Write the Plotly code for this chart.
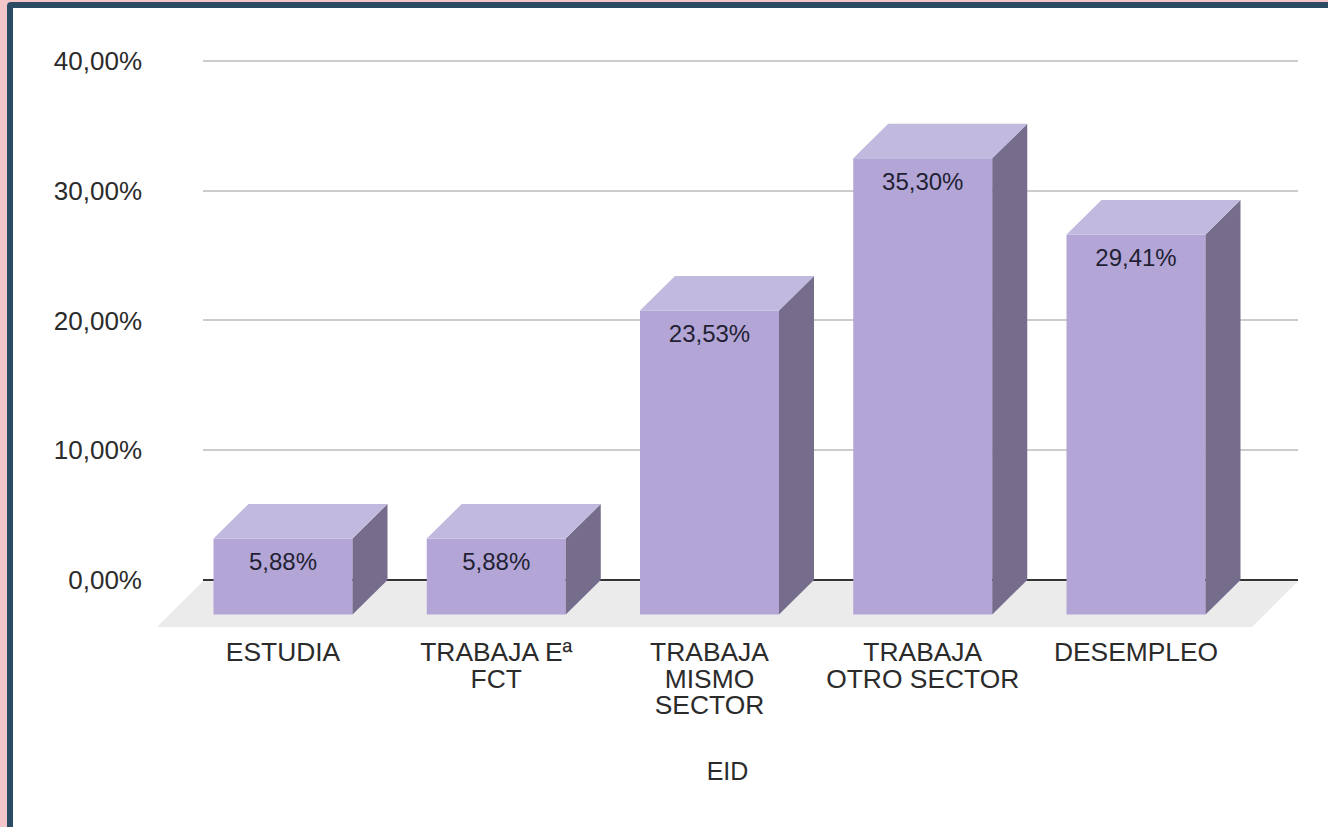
import plotly.graph_objects as go

# Data
categories = ["ESTUDIA", "TRABAJA Eª<br>FCT", "TRABAJA<br>MISMO<br>SECTOR", "TRABAJA<br>OTRO SECTOR", "DESEMPLEO"]
values = [5.88, 5.88, 23.53, 35.30, 29.41]
value_labels = ["5,88%", "5,88%", "23,53%", "35,30%", "29,41%"]
y_ticks = [0, 10, 20, 30, 40]
y_tick_labels = ["0,00%", "10,00%", "20,00%", "30,00%", "40,00%"]
x_title = "EID"

# Page geometry
W, H = 1328, 827
PX_PER_UNIT_Y = 12.975
PX_PER_CAT = 213.25
X0_PX = 283          # pixel of first category centre (front face)
BACK_L, BACK_R = 203, 1298
FRONT_L = 157
Y40, Y0, FLOOR_Y = 61, 580, 627

depth_x = 35 / PX_PER_CAT
depth_y = 34.5 / PX_PER_UNIT_Y
bar_w = 139 / PX_PER_CAT
front_scale = 0.996
label_drop = 25.5 / PX_PER_UNIT_Y
wall_pad = 0.3   # extra value range so that the edge grid lines are kept

FRONT, TOP, SIDE = "#b3a6d6", "#c2b9de", "#766c8c"
FLOOR = "#ebebeb"
TEXT = "#2b2b2b"
FONT = "Liberation Sans, Arial, sans-serif"


def px_x(p):
    return (p - X0_PX) / PX_PER_CAT


def rounded(x0, y0, r):
    """Panel path in paper coordinates, rounded at its top-left corner."""
    l, t = x0 / W, 1 - y0 / H
    return (f"M {l},-0.01 L {l},{t - r / H} Q {l},{t} {l + r / W},{t} "
            f"L 1.01,{t} L 1.01,-0.01 Z")


xs = list(range(len(values)))
tops = [v * front_scale - depth_y for v in values]

fig = go.Figure()

# Subplot 1: back wall with native grid and value axis
fig.add_trace(go.Scatter(x=[0, 1], y=[0, 40], mode="none", hoverinfo="skip",
                         showlegend=False, xaxis="x", yaxis="y"))

# Subplot 2: floor
floor_front = -(FLOOR_Y - Y0) / PX_PER_UNIT_Y
fl = px_x(FRONT_L)
fr = px_x(1252)
fig.add_trace(go.Scatter(
    x=[px_x(BACK_L), px_x(BACK_R), fr, fl, px_x(BACK_L)],
    y=[-0.1, -0.1, floor_front, floor_front, -0.1],
    mode="lines", fill="toself", fillcolor=FLOOR, line=dict(width=0),
    hoverinfo="skip", showlegend=False, xaxis="x2", yaxis="y2"))

# Subplot 3: the 3D bars
fig.add_trace(go.Bar(x=xs, y=[v * front_scale for v in values], base=-depth_y, width=bar_w,
                     marker=dict(color=FRONT, line=dict(width=0)),
                     showlegend=False, xaxis="x3", yaxis="y3"))

side_x, side_y, top_x, top_y = [], [], [], []
for x, t in zip(xs, tops):
    r = x + bar_w / 2
    l = x - bar_w / 2
    side_x += [r, r + depth_x, r + depth_x, r, r, None]
    side_y += [-depth_y, 0, t + depth_y, t, -depth_y, None]
    top_x += [l, r, r + depth_x, l + depth_x, l, None]
    top_y += [t, t, t + depth_y, t + depth_y, t, None]

fig.add_trace(go.Scatter(x=side_x, y=side_y, mode="lines", fill="toself", fillcolor=SIDE,
                         line=dict(width=0), hoverinfo="skip", showlegend=False,
                         xaxis="x3", yaxis="y3"))
fig.add_trace(go.Scatter(x=top_x, y=top_y, mode="lines", fill="toself", fillcolor=TOP,
                         line=dict(width=0), hoverinfo="skip", showlegend=False,
                         xaxis="x3", yaxis="y3"))
fig.add_trace(go.Scatter(x=xs, y=[t - label_drop for t in tops], mode="text", text=value_labels,
                         textposition="middle center",
                         textfont=dict(family=FONT, size=24, color="#221f33"),
                         hoverinfo="skip", showlegend=False, xaxis="x3", yaxis="y3"))

pad_px = wall_pad * PX_PER_UNIT_Y
mark_x = dict(domain=[FRONT_L / W, BACK_R / W], range=[px_x(FRONT_L), px_x(BACK_R)])
mark_y = dict(domain=[1 - FLOOR_Y / H, 1 - Y40 / H], range=[floor_front, 40], visible=False)

fig.update_layout(
    width=W, height=H, margin=dict(l=0, r=0, t=0, b=0, pad=0, autoexpand=False),
    paper_bgcolor="#f4c6c8", plot_bgcolor="rgba(0,0,0,0)",
    barmode="overlay", showlegend=False,
    xaxis=dict(domain=[BACK_L / W, BACK_R / W], range=[0, 1], visible=False),
    yaxis=dict(domain=[1 - (Y0 + pad_px) / H, 1 - (Y40 - pad_px) / H],
               range=[-wall_pad, 40 + wall_pad], anchor="x",
               tickvals=y_ticks, ticktext=y_tick_labels,
               tickfont=dict(family=FONT, size=26, color=TEXT),
               showgrid=True, gridcolor="#cccccc", gridwidth=2,
               zeroline=True, zerolinecolor="#333333", zerolinewidth=2,
               showline=False, ticks="", ticklabelstandoff=60),
    xaxis2=dict(anchor="y2", visible=False, **mark_x),
    yaxis2=dict(anchor="x2", **mark_y),
    xaxis3=dict(anchor="y3", tickvals=xs, ticktext=categories, tickangle=0,
                tickfont=dict(family=FONT, size=26.4, color=TEXT),
                showgrid=False, zeroline=False, showline=False, ticks="", ticklabelstandoff=7,
                title=dict(text=x_title, standoff=27, font=dict(family=FONT, size=25, color=TEXT)),
                **mark_x),
    yaxis3=dict(anchor="x3", **mark_y),
    shapes=[
        dict(type="path", path=rounded(7, 2, 4), xref="paper", yref="paper", layer="below",
             fillcolor="#2b4a63", line=dict(width=0)),
        dict(type="rect", xref="paper", yref="paper", layer="below",
             x0=13 / W, x1=1.01, y0=-0.01, y1=1 - 8 / H,
             fillcolor="#ffffff", line=dict(width=0)),
    ],
)

post = """
document.body.style.margin = '0';
document.querySelectorAll('[class*="tick"] tspan.line').forEach(function (t) {
  var dy = parseFloat(t.getAttribute('dy') || '0');
  t.setAttribute('dy', (dy * 1.0 / 1.3) + 'em');
});
"""
fig.write_html("out.html", post_script=post, config=dict(displayModeBar=False))
